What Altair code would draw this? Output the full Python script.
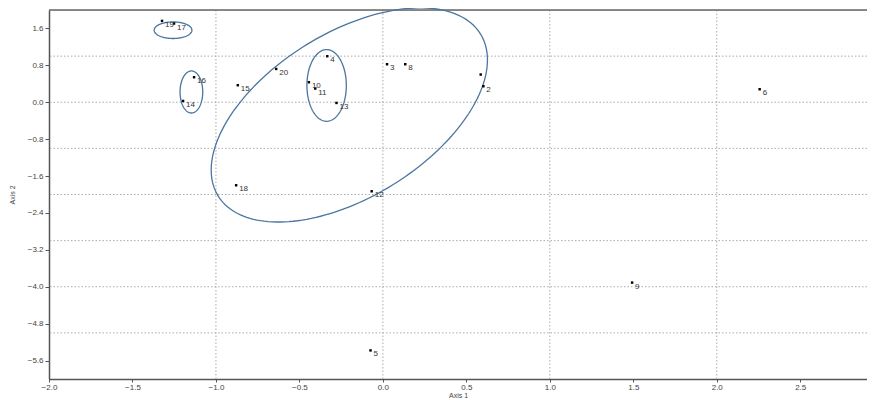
import altair as alt
import numpy as np
import pandas as pd

# ---- data ----
pt_label = ["19", "17", "16", "14", "15", "20", "18", "4", "3", "8",
            "10", "11", "13", "12", "5", "9", "6", "2", ""]
pt_x = [-1.323, -1.251, -1.131, -1.197, -0.869, -0.639, -0.879, -0.333, 0.025, 0.134,
        -0.443, -0.405, -0.278, -0.067, -0.074, 1.493, 2.257, 0.602, 0.586]
pt_y = [1.764, 1.707, 0.542, 0.028, 0.369, 0.722, -1.80, 0.998, 0.824, 0.824,
        0.434, 0.297, -0.015, -1.93, -5.38, -3.91, 0.282, 0.347, 0.601]

# ellipses: centre and (co)variance-like shape parameters
ell_id = ["big", "top", "left", "mid"]
ell_cx = [-0.201, -1.257, -1.147, -0.337]
ell_cy = [-0.276, 1.562, 0.223, 0.364]
ell_sxx = [0.6845, 0.113 ** 2, 0.068 ** 2, 0.118 ** 2]
ell_syy = [5.387, 0.18 ** 2, 0.456 ** 2, 0.777 ** 2]
ell_sxy = [0.987, 0.0, 0.0, 0.0]

x_ticks = [-2.0, -1.5, -1.0, -0.5, 0.0, 0.5, 1.0, 1.5, 2.0, 2.5]
y_ticks = [-5.6, -4.8, -4.0, -3.2, -2.4, -1.6, -0.8, 0.0, 0.8, 1.6]
grid_x = [-1, 0, 1, 2]
grid_y = [-5, -4, -3, -2, -1, 0, 1]

x_dom = [-2.0, 2.9]
y_dom = [-6.0, 2.0]

# ---- build tables ----
pts = pd.DataFrame({"x": pt_x, "y": pt_y, "label": pt_label})

t = np.linspace(0, 2 * np.pi, 181)
rows = []
for i, eid in enumerate(ell_id):
    a = np.sqrt(ell_sxx[i])
    c = ell_sxy[i] / a
    d = np.sqrt(ell_syy[i] - c * c)
    for k, tt in enumerate(t):
        rows.append({"id": eid, "o": k,
                     "x": ell_cx[i] + a * np.cos(tt),
                     "y": ell_cy[i] + c * np.cos(tt) + d * np.sin(tt)})
ell = pd.DataFrame(rows)

xs = alt.Scale(domain=x_dom, nice=False, zero=False)
ys = alt.Scale(domain=y_dom, nice=False, zero=False)

x_axis = alt.Axis(values=x_ticks, format=".1f", title="Axis 1", grid=False,
                  labelFontSize=8, labelColor="#444", tickSize=3, tickColor="#555",
                  domainColor="#555", domainWidth=1.5, labelPadding=1,
                  titleFontSize=7, titleFontWeight="normal", titleColor="#444",
                  titlePadding=0, labelFlush=False)
y_axis = alt.Axis(values=y_ticks, format=".1f", title="Axis 2", grid=False,
                  labelFontSize=8, labelColor="#444", tickSize=4, tickColor="#555",
                  domainColor="#555", domainWidth=1.5, labelPadding=2,
                  titleFontSize=7, titleFontWeight="normal", titleColor="#444",
                  titlePadding=12, labelFlush=False)

gx = alt.Chart(pd.DataFrame({"g": grid_x})).mark_rule(
    color="#aaa", strokeDash=[1.5, 2], strokeWidth=1
).encode(x=alt.X("g:Q", scale=xs, axis=x_axis))

gy = alt.Chart(pd.DataFrame({"g": grid_y})).mark_rule(
    color="#aaa", strokeDash=[1.5, 2], strokeWidth=1
).encode(y=alt.Y("g:Q", scale=ys, axis=y_axis))

top_border = alt.Chart(pd.DataFrame({"g": [y_dom[1]]})).mark_rule(
    color="#666", strokeWidth=1.5
).encode(y=alt.Y("g:Q", scale=ys))

ellipses = alt.Chart(ell).mark_line(
    color="#4a76a0", strokeWidth=1.3, clip=False
).encode(
    x=alt.X("x:Q", scale=xs),
    y=alt.Y("y:Q", scale=ys),
    detail="id:N",
    order="o:Q",
)

dots = alt.Chart(pts).mark_square(size=6, color="black", opacity=1).encode(
    x=alt.X("x:Q", scale=xs),
    y=alt.Y("y:Q", scale=ys),
)

labels = alt.Chart(pts).mark_text(
    align="left", baseline="middle", dx=3, dy=4, fontSize=8, color="#333"
).encode(
    x=alt.X("x:Q", scale=xs),
    y=alt.Y("y:Q", scale=ys),
    text="label:N",
)

chart = alt.layer(gx, gy, top_border, ellipses, dots, labels).properties(
    width=818, height=369,
    autosize=alt.AutoSizeParams(type="none"),
    padding={"left": 41, "top": 2, "right": 0, "bottom": 20},
).configure_view(stroke=None).configure(background="white")

chart.save("out.html", embed_options={"renderer": "svg", "actions": False})
